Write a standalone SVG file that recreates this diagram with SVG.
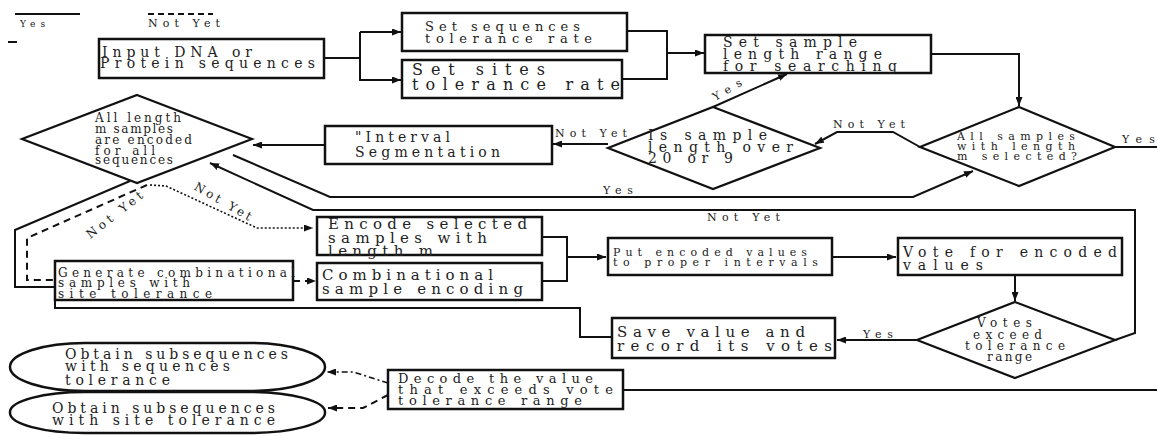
<svg xmlns="http://www.w3.org/2000/svg" width="1157" height="436" viewBox="0 0 1157 436">
<style>
.box{fill:#fff;stroke:#111;stroke-width:2.5}
.dia{fill:#fff;stroke:#111;stroke-width:2.2}
.c{fill:none;stroke:#111;stroke-width:2}
.dash{stroke-dasharray:7 5}
.dot{stroke-dasharray:2 2;stroke-width:1.6}
.dd{stroke-dasharray:6 3 2 3;stroke-width:1.6}
text{font-family:"DejaVu Serif","Liberation Serif",serif;fill:#222}
.s11{font-size:11px}.s12{font-size:12px}.s13{font-size:13px}.s14{font-size:14px}.s15{font-size:15px}.s16{font-size:16px}
</style>
<defs>
<marker id="ar" markerUnits="userSpaceOnUse" markerWidth="9" markerHeight="7" refX="9" refY="3.5" orient="auto">
<path d="M0,0 L9,3.5 L0,7 z" fill="#111"/>
</marker>
</defs>
<rect width="1157" height="436" fill="#fff"/>
<g id="legend">
<path class="c" d="M15,14 H80" stroke-width="3"/>
<path class="c" d="M148,14 H213" stroke-width="3" stroke-dasharray="6 4"/>
<path class="c" d="M8,42 H17" stroke-width="3"/>
<text x="20" y="27" textLength="25" lengthAdjust="spacing" font-size="9">Yes</text>
<text class="s11" x="148" y="27" textLength="72" lengthAdjust="spacing">Not Yet</text>
</g>
<g id="connectors">
<path class="c" d="M324,58 H360 M360,32 V81"/>
<path class="c" d="M360,32 H401" marker-end="url(#ar)"/>
<path class="c" d="M360,80 H401" marker-end="url(#ar)"/>
<path class="c" d="M627,31 H667 V79 H622"/>
<path class="c" d="M667,53 H704" marker-end="url(#ar)"/>
<path class="c" d="M931,54 H1019 V106" marker-end="url(#ar)"/>
<path class="c" d="M1115,147 H1157"/>
<path class="c" d="M920,147 L893,132 H837 L815,144" marker-end="url(#ar)"/>
<path class="c" d="M713,107 L787,74" marker-end="url(#ar)"/>
<path class="c" d="M608,144 H553" marker-end="url(#ar)"/>
<path class="c" d="M325,145 H253" marker-end="url(#ar)"/>
<path class="c" d="M233,155 L330,197 H913 L973,171" marker-end="url(#ar)"/>
<path class="c" d="M1115,340 L1135,333 V210 H313 L210,163" marker-end="url(#ar)"/>
<path class="c" d="M130,181 L15,230 V287 H55"/>
<path class="c dash" d="M147,185 L27,238 V280 H70" marker-end="url(#ar)"/>
<path class="c dot" d="M150,185 L166,186 L257,228 H313" marker-end="url(#ar)"/>
<path class="c dash" d="M293,281 H316" stroke-dasharray="4 3" marker-end="url(#ar)"/>
<path class="c" d="M542,237 H567 V281 H542"/>
<path class="c" d="M567,257 H606" marker-end="url(#ar)"/>
<path class="c" d="M832,257 H896" marker-end="url(#ar)"/>
<path class="c" d="M1015,275 V301" marker-end="url(#ar)"/>
<path class="c" d="M917,340 H837" marker-end="url(#ar)"/>
<path class="c" d="M612,337 H580 V308 H55 V300"/>
<path class="c" d="M613,390 H1157"/>
<path class="c dd" d="M388,383 L353,372 H327" marker-end="url(#ar)"/>
<path class="c dash" d="M388,395 L363,408 H328" stroke-dasharray="8 4" marker-end="url(#ar)"/>
<text class="s11" x="555" y="137" textLength="72" lengthAdjust="spacing">Not Yet</text>
<text class="s11" x="833" y="128" textLength="72" lengthAdjust="spacing">Not Yet</text>
<text class="s11" x="1122" y="143" textLength="33" lengthAdjust="spacing">Yes</text>
<text class="s11" x="603" y="194" textLength="30" lengthAdjust="spacing">Yes</text>
<text class="s11" x="707" y="221" textLength="73" lengthAdjust="spacing">Not Yet</text>
<text class="s11" x="863" y="338" textLength="30" lengthAdjust="spacing">Yes</text>
<text class="s11" transform="translate(729,93) rotate(-30)" x="-16" y="0" textLength="32" lengthAdjust="spacing">Yes</text>
<text class="s12" transform="translate(117,218) rotate(-38)" x="-34" y="0" textLength="68" lengthAdjust="spacing">Not Yet</text>
<text class="s12" transform="translate(221,205) rotate(30)" x="-32" y="0" textLength="64" lengthAdjust="spacing">Not Yet</text>
</g>
<g id="n-input">
<rect class="box" x="99" y="39" width="225" height="39"/>
<text class="s14" x="102" y="57" textLength="150" lengthAdjust="spacing">Input DNA or</text>
<text class="s14" x="100" y="68" textLength="215" lengthAdjust="spacing">Protein sequences</text>
</g>
<g id="n-seqtol">
<rect class="box" x="402" y="13" width="225" height="38"/>
<text class="s13" x="425" y="31" textLength="155" lengthAdjust="spacing">Set sequences</text>
<text class="s13" x="425" y="43" textLength="167" lengthAdjust="spacing">tolerance rate</text>
</g>
<g id="n-sitetol">
<rect class="box" x="402" y="60" width="220" height="38"/>
<text class="s16" x="412" y="75" textLength="133" lengthAdjust="spacing">Set sites</text>
<text class="s16" x="412" y="90" textLength="208" lengthAdjust="spacing">tolerance rate</text>
</g>
<g id="n-setsample">
<rect class="box" x="705" y="35" width="226" height="38"/>
<text class="s14" x="723" y="47" textLength="134" lengthAdjust="spacing">Set sample</text>
<text class="s14" x="723" y="59" textLength="159" lengthAdjust="spacing">length range</text>
<text class="s14" x="723" y="71" textLength="174" lengthAdjust="spacing">for searching</text>
</g>
<g id="n-allsamples">
<polygon class="dia" points="1019,107 1115,147 1019,186 920,147"/>
<text class="s11" x="957" y="140" textLength="118" lengthAdjust="spacing">All samples</text>
<text class="s11" x="957" y="150" textLength="118" lengthAdjust="spacing">with length</text>
<text class="s11" x="957" y="160" textLength="120" lengthAdjust="spacing">m selected?</text>
</g>
<g id="n-issample">
<polygon class="dia" points="713,107 820,148 713,189 608,148"/>
<text class="s14" x="648" y="140" textLength="119" lengthAdjust="spacing">Is sample</text>
<text class="s14" x="648" y="152" textLength="145" lengthAdjust="spacing">length over</text>
<text class="s14" x="648" y="163" textLength="85" lengthAdjust="spacing">20 or 9</text>
</g>
<g id="n-interval">
<rect class="box" x="325" y="126" width="227" height="38"/>
<text class="s14" x="355" y="142" textLength="95" lengthAdjust="spacing">"Interval</text>
<text class="s14" x="355" y="157" textLength="145" lengthAdjust="spacing">Segmentation</text>
</g>
<g id="n-alllength">
<polygon class="dia" points="137,95 252,139 137,183 22,139"/>
<text class="s12" x="95" y="122" textLength="86" lengthAdjust="spacing">All length</text>
<text class="s12" x="95" y="133" textLength="78" lengthAdjust="spacing">m samples</text>
<text class="s12" x="95" y="144" textLength="97" lengthAdjust="spacing">are encoded</text>
<text class="s12" x="95" y="155" textLength="60" lengthAdjust="spacing">for all</text>
<text class="s12" x="95" y="164" textLength="78" lengthAdjust="spacing">sequences</text>
</g>
<g id="n-encode">
<rect class="box" x="317" y="217" width="225" height="38"/>
<text class="s15" x="328" y="229" textLength="199" lengthAdjust="spacing">Encode selected</text>
<text class="s15" x="328" y="243" textLength="159" lengthAdjust="spacing">samples with</text>
<text class="s15" x="328" y="256" textLength="105" lengthAdjust="spacing">length m</text>
</g>
<g id="n-combenc">
<rect class="box" x="317" y="263" width="225" height="37"/>
<text class="s15" x="322" y="280" textLength="171" lengthAdjust="spacing">Combinational</text>
<text class="s15" x="322" y="294" textLength="201" lengthAdjust="spacing">sample encoding</text>
</g>
<g id="n-generate">
<rect class="box" x="55" y="261" width="238" height="39"/>
<text class="s12" x="58" y="277" textLength="237" lengthAdjust="spacing">Generate combinational</text>
<text class="s12" x="58" y="287" textLength="132" lengthAdjust="spacing">samples with</text>
<text class="s12" x="58" y="298" textLength="154" lengthAdjust="spacing">site tolerance</text>
</g>
<g id="n-put">
<rect class="box" x="608" y="238" width="224" height="37"/>
<text class="s11" x="613" y="256" textLength="194" lengthAdjust="spacing">Put encoded values</text>
<text class="s11" x="613" y="266" textLength="205" lengthAdjust="spacing">to proper intervals</text>
</g>
<g id="n-vote">
<rect class="box" x="898" y="238" width="224" height="37"/>
<text class="s14" x="903" y="257" textLength="214" lengthAdjust="spacing">Vote for encoded</text>
<text class="s14" x="903" y="270" textLength="80" lengthAdjust="spacing">values</text>
</g>
<g id="n-votes">
<polygon class="dia" points="1015,302 1115,340 1015,378 917,340"/>
<text class="s12" x="977" y="327" textLength="55" lengthAdjust="spacing">Votes</text>
<text class="s12" x="973" y="339" textLength="69" lengthAdjust="spacing">exceed</text>
<text class="s12" x="965" y="350" textLength="100" lengthAdjust="spacing">tolerance</text>
<text class="s12" x="987" y="361" textLength="45" lengthAdjust="spacing">range</text>
</g>
<g id="n-save">
<rect class="box" x="612" y="318" width="223" height="40"/>
<text class="s15" x="617" y="337" textLength="188" lengthAdjust="spacing">Save value and</text>
<text class="s15" x="617" y="351" textLength="215" lengthAdjust="spacing">record its votes</text>
</g>
<g id="n-decode">
<rect class="box" x="388" y="370" width="235" height="39"/>
<text class="s13" x="398" y="383" textLength="195" lengthAdjust="spacing">Decode the value</text>
<text class="s13" x="398" y="394" textLength="215" lengthAdjust="spacing">that exceeds vote</text>
<text class="s13" x="398" y="405" textLength="184" lengthAdjust="spacing">tolerance range</text>
</g>
<g id="n-obtainseq">
<rect class="box" x="10" y="343" width="315" height="48" rx="75" ry="24"/>
<text class="s14" x="65" y="359" textLength="223" lengthAdjust="spacing">Obtain subsequences</text>
<text class="s14" x="65" y="371" textLength="165" lengthAdjust="spacing">with sequences</text>
<text class="s14" x="65" y="385" textLength="105" lengthAdjust="spacing">tolerance</text>
</g>
<g id="n-obtainsite">
<rect class="box" x="10" y="392" width="315" height="41" rx="75" ry="20"/>
<text class="s14" x="52" y="413" textLength="223" lengthAdjust="spacing">Obtain subsequences</text>
<text class="s14" x="52" y="425" textLength="223" lengthAdjust="spacing">with site tolerance</text>
</g>
</svg>
